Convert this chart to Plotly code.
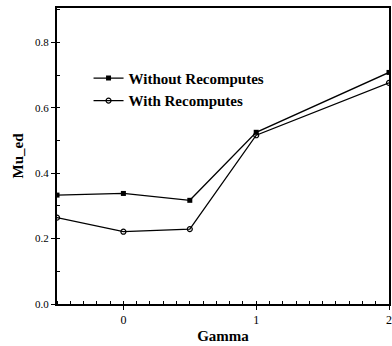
import plotly.graph_objects as go

gamma = [-0.5, 0, 0.5, 1, 2]
without_recomputes = [0.333, 0.338, 0.317, 0.525, 0.708]
with_recomputes = [0.264, 0.221, 0.229, 0.516, 0.676]

font = "Liberation Serif"

fig = go.Figure()
fig.add_trace(go.Scatter(x=gamma, y=without_recomputes, mode="lines+markers",
                         name="<b>Without Recomputes</b>",
                         line=dict(color="black", width=1.3),
                         marker=dict(symbol="square", size=5, color="black")))
fig.add_trace(go.Scatter(x=gamma, y=with_recomputes, mode="lines+markers",
                         name="<b>With Recomputes</b>",
                         line=dict(color="black", width=1.3),
                         marker=dict(symbol="circle-open", size=5, color="black",
                                     line=dict(width=1.2))))

fig.update_layout(
    width=392, height=346,
    margin=dict(l=57, r=1, t=8, b=42),
    plot_bgcolor="white", paper_bgcolor="white",
    font=dict(family=font, color="black"),
    legend=dict(x=0.095, y=0.818, xanchor="left", yanchor="top",
                font=dict(family=font, size=15, color="black"),
                bgcolor="rgba(0,0,0,0)", itemwidth=30, tracegroupgap=0),
    xaxis=dict(range=[-0.5, 2], tickvals=[0, 1, 2], ticktext=["0", "1", "2"],
               showgrid=False, zeroline=False, showline=True, linecolor="black",
               linewidth=2, mirror=True, ticks="outside", ticklen=4,
               tickcolor="black", tickfont=dict(size=12, family=font),
               minor=dict(dtick=0.1, ticks="inside", ticklen=3, tickcolor="black"),
               title=dict(text="<b>Gamma</b>", font=dict(size=15, family=font), standoff=4)),
    yaxis=dict(range=[0, 0.905], tickvals=[0, 0.2, 0.4, 0.6, 0.8],
               ticktext=["0.0", "0.2", "0.4", "0.6", "0.8"],
               showgrid=False, zeroline=False, showline=True, linecolor="black",
               linewidth=2, mirror=True, ticks="outside", ticklen=4,
               tickcolor="black", tickfont=dict(size=11, family=font),
               minor=dict(dtick=0.1, ticks="inside", ticklen=3, tickcolor="black"),
               title=dict(text="<b>Mu_ed</b>", font=dict(size=15, family=font), standoff=8)),
)

fig.write_html("out.html", config={"displayModeBar": False},
               post_script="document.body.style.margin='0';document.body.style.overflow='hidden';document.documentElement.style.overflow='hidden';")
